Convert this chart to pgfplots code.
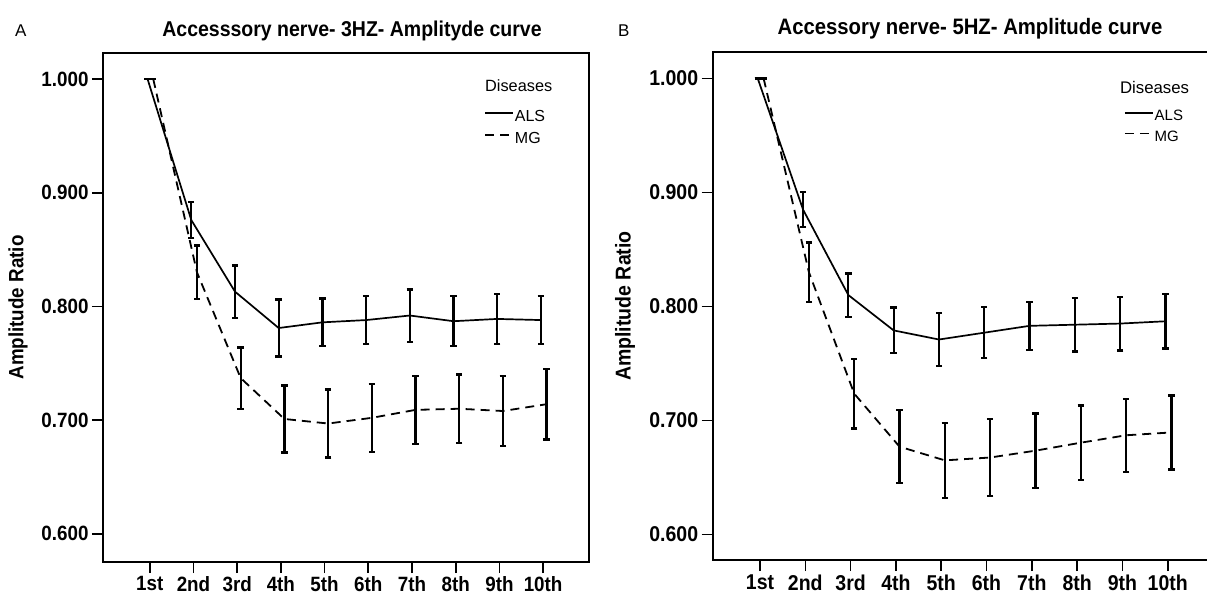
\documentclass[border=0pt]{standalone}
\usepackage{fontspec}
\setmainfont{Liberation Sans}
\usepackage{graphicx}
\usepackage{pgfplots}
\usepackage{pgfplotstable}
\pgfplotsset{compat=1.18}
\newcommand{\tl}[1]{\scalebox{1}[1.1]{#1}}

% Panel A (3 Hz)
\pgfplotstableread{
x y e
0.95 1.000 0
1.95 0.876 0.016
2.95 0.813 0.023
3.95 0.781 0.025
4.95 0.786 0.021
5.95 0.788 0.021
6.95 0.792 0.023
7.95 0.787 0.022
8.95 0.789 0.022
9.95 0.788 0.021
}\alsA
\pgfplotstableread{
x y e
1.08 1.000 0
2.08 0.830 0.0235
3.08 0.737 0.027
4.08 0.701 0.0295
5.08 0.697 0.030
6.08 0.702 0.030
7.08 0.709 0.030
8.08 0.710 0.030
9.08 0.708 0.031
10.08 0.714 0.031
}\mgA
% Panel B (5 Hz)
\pgfplotstableread{
x y e
0.95 1.000 0
1.95 0.885 0.0155
2.95 0.810 0.019
3.95 0.779 0.020
4.95 0.771 0.0235
5.95 0.777 0.0225
6.95 0.783 0.021
7.95 0.784 0.0235
8.95 0.785 0.0235
9.95 0.787 0.024
}\alsB
\pgfplotstableread{
x y e
1.08 1.000 0
2.08 0.830 0.026
3.08 0.7235 0.0305
4.08 0.677 0.032
5.08 0.665 0.033
6.08 0.6675 0.0335
7.08 0.6735 0.0325
8.08 0.6805 0.0325
9.08 0.687 0.032
10.08 0.6895 0.0325
}\mgB

\pgfplotsset{
  panel/.style={
    scale only axis,
    axis line style={line width=1.6pt},
    tick align=outside,
    major tick length=11pt,
    xtick pos=bottom, ytick pos=left,
    tick style={line width=1.6pt, black},
    xtick={1,...,10},
    xticklabels={\tl{1st},\tl{2nd},\tl{3rd},\tl{4th},\tl{5th},\tl{6th},\tl{7th},\tl{8th},\tl{9th},\tl{10th}},
    ytick={0.6,0.7,0.8,0.9,1.0},
    yticklabels={\tl{0.600},\tl{0.700},\tl{0.800},\tl{0.900},\tl{1.000}},
    xmin=-0.07, xmax=11.05,
    legend cell align=left,
    legend style={draw=none, fill=none, anchor=north west, row sep=5pt,
      inner sep=0pt, column sep=0pt, nodes={inner xsep=1pt, inner ysep=2pt}},
    legend image code/.code={\draw[##1, line width=1.7pt] (0pt,3.4pt) -- (28pt,3.4pt);},
  },
  als/.style={black, line width=1.7pt, mark=none,
    error bars/.cd, y dir=both, y explicit,
    error bar style={line width=2.3pt, solid},
    error mark options={rotate=90, mark size=3.2pt, line width=2.3pt, solid}},
  mg/.style={black, line width=1.8pt, mark=none, dash pattern=on 9pt off 6pt,
    error bars/.cd, y dir=both, y explicit,
    error bar style={line width=2.3pt, solid},
    error mark options={rotate=90, mark size=3.2pt, line width=2.3pt, solid}},
}

\begin{document}
\begin{tikzpicture}
% Panel A
\begin{axis}[panel,
  at={(103pt,36pt)}, anchor=south west,
  width=486pt, height=509pt,
  ymin=0.5752, ymax=1.0229,
  ticklabel style={font=\bfseries\fontsize{18.8}{20}\selectfont},
  ylabel={\tl{Amplitude Ratio}},
  ylabel style={font=\bfseries\fontsize{18.8}{20}\selectfont, at={(axis description cs:-0.175,0.5)}, anchor=center},
  legend style={at={(axis description cs:0.784,0.892)}, font=\fontsize{16}{18}\selectfont},
]
\addplot[als] table[x=x, y=y, y error=e] {\alsA};
\addlegendentry{ALS}
\addplot[mg] table[x=x, y=y, y error=e] {\mgA};
\addlegendentry{MG}
\node[anchor=base west, font=\fontsize{16.3}{18}\selectfont, inner sep=0pt] at (axis description cs:0.786,0.925) {Diseases};
\end{axis}
% Panel B
\begin{axis}[panel,
  at={(712.7pt,38pt)}, anchor=south west,
  width=502.6pt, height=508pt,
  xmin=-0.044,
  ymin=0.5776, ymax=1.0232,
  ticklabel style={font=\bfseries\fontsize{19.5}{21}\selectfont},
  ylabel={\tl{Amplitude Ratio}},
  ylabel style={font=\bfseries\fontsize{19.5}{21}\selectfont, at={(axis description cs:-0.1745,0.5)}, anchor=center},
  legend style={at={(axis description cs:0.818,0.89)}, font=\fontsize{15}{17}\selectfont},
]
\addplot[als] table[x=x, y=y, y error=e] {\alsB};
\addlegendentry{ALS}
\addplot[mg] table[x=x, y=y, y error=e] {\mgB};
\addlegendentry{MG}
\node[anchor=base west, font=\fontsize{16.8}{18}\selectfont, inner sep=0pt] at (axis description cs:0.81,0.919) {Diseases};
\end{axis}
% titles and panel letters
\node[anchor=base, font=\bfseries\fontsize{19.5}{21}\selectfont] at (352pt,561pt) {\tl{Accesssory nerve- 3HZ- Amplityde curve}};
\node[anchor=base, font=\bfseries\fontsize{20.3}{22}\selectfont] at (970pt,563pt) {\tl{Accessory nerve- 5HZ- Amplitude curve}};
\node[anchor=base west, font=\fontsize{17}{19}\selectfont, inner sep=0pt] at (15pt,561pt) {A};
\node[anchor=base west, font=\fontsize{17}{19}\selectfont, inner sep=0pt] at (618pt,561pt) {B};
\pgfresetboundingbox
\useasboundingbox (0pt,0pt) rectangle (1207pt,598pt);
\end{tikzpicture}
\end{document}
